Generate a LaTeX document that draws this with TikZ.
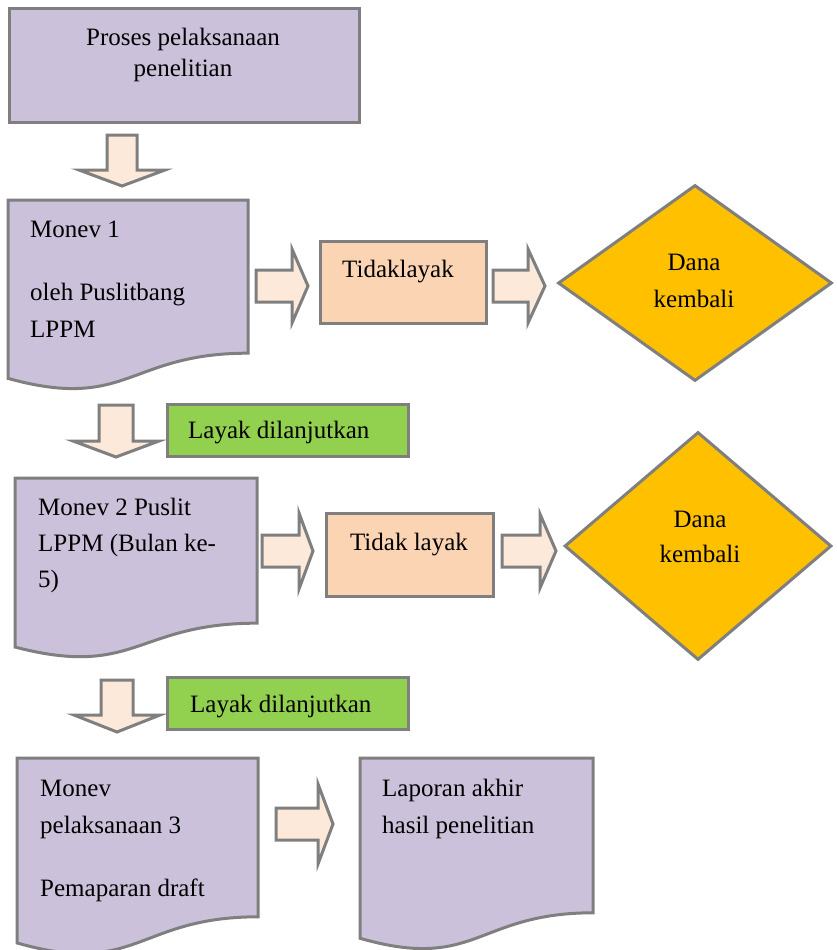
\documentclass[tikz,border=0pt]{standalone}
\usepackage{fontspec}
\setmainfont{Liberation Serif}
\usetikzlibrary{shapes.geometric}
\definecolor{lav}{HTML}{CCC1DA}
\definecolor{bord}{HTML}{7F7F7F}
\definecolor{arrf}{HTML}{FDE9D9}
\definecolor{peach}{HTML}{FBD4B4}
\definecolor{grn}{HTML}{92D050}
\definecolor{gold}{HTML}{FFC000}
\newcommand{\docshape}[5]{%
  \coordinate (#1) at (#2,#3);
  \draw[shapeline,fill=lav] (#1) -- ++(#4,0) -- ({#2+#4},{#3+0.802*#5})
    .. controls ({#2+#4/2},{#3+0.802*#5}) and ({#2+#4/2},{#3+1.1075*#5}) ..
    (#2,{#3+0.934*#5}) -- cycle;}
\newcommand{\rarr}[6]{%
  \draw[arrowshape] (#1,{#2-#5}) -- (#3,{#2-#5}) -- (#3,{#2-#6}) -- (#4,#2)
    -- (#3,{#2+#6}) -- (#3,{#2+#5}) -- (#1,{#2+#5}) -- cycle;}
\newcommand{\darr}[6]{%
  \draw[arrowshape] ({#1-#5},#2) -- ({#1-#5},#3) -- ({#1-#6},#3) -- (#1,#4)
    -- ({#1+#6},#3) -- ({#1+#5},#3) -- ({#1+#5},#2) -- cycle;}
\begin{document}
\begin{tikzpicture}[x=1pt,y=-1pt,
  shapeline/.style={draw=bord,line width=3pt},
  box/.style={shapeline,rectangle,inner sep=0pt,anchor=north west},
  dia/.style={shapeline,diamond,fill=gold,inner sep=0pt},
  arrowshape/.style={shapeline,fill=arrf,line join=miter},
  txt/.style={font=\fontsize{25}{37}\selectfont,inner sep=0pt,anchor=base west,align=left},
  ctxt/.style={font=\fontsize{25}{37}\selectfont,inner sep=0pt,anchor=base,align=center}]
\useasboundingbox (0,0) rectangle (837,950);

% top box
\node[box,fill=lav,minimum width=350pt,minimum height=114pt] (top) at (8,7) {};
\node[ctxt] (toptxt) at (183,76) {Proses pelaksanaan\\[-6pt]penelitian};
\darr{122}{135}{170}{186}{15}{43}

% row 1
\docshape{m1}{8}{200}{240}{191}
\node[txt] (m1txt) at (30,337) {Monev 1\\[26pt]oleh Puslitbang\\LPPM};
\rarr{256}{286}{292}{308}{16}{37}
\node[box,fill=peach,minimum width=166pt,minimum height=82pt] (tl1) at (319,240) {};
\node[ctxt] (tl1txt) at (398,277) {Tidaklayak};
\rarr{493}{286}{528}{545}{16}{37}
\node[dia,minimum width=274pt,minimum height=196pt] (d1) at (695,283) {};
\node[ctxt] (d1txt) at (694,307) {Dana\\kembali};

% row 2
\darr{116}{405}{441}{457}{17}{43}
\node[box,fill=grn,minimum width=241pt,minimum height=52pt] (ld1) at (166,403) {};
\node[txt] (ld1txt) at (188,438) {Layak dilanjutkan};
\docshape{m2}{15}{478}{242}{181}
\node[txt] (m2txt) at (38,587) {Monev 2 Puslit\\[-1pt]LPPM (Bulan ke-\\[-1pt]5)};
\rarr{262}{551}{299}{313}{16}{38}
\node[box,fill=peach,minimum width=167pt,minimum height=83pt] (tl2) at (325,512) {};
\node[ctxt] (tl2txt) at (409,550) {Tidak layak};
\rarr{502}{551}{540}{556}{16}{37}
\node[dia,minimum width=267pt,minimum height=228pt] (d2) at (698,546) {};
\node[ctxt] (d2txt) at (700,562) {Dana\\[-2pt]kembali};

% row 3
\darr{117}{680}{715}{732}{16}{43}
\node[box,fill=grn,minimum width=241pt,minimum height=52pt] (ld2) at (166,676) {};
\node[txt] (ld2txt) at (190,712) {Layak dilanjutkan};
\docshape{m3}{17}{758}{241}{198}
\node[txt] (m3txt) at (40,896) {Monev\\pelaksanaan 3\\[26pt]Pemaparan draft};
\rarr{276}{824}{318}{333}{16}{40}
\docshape{lap}{360}{758}{233}{193}
\node[txt] (laptxt) at (382,833) {Laporan akhir\\hasil penelitian};
\end{tikzpicture}
\end{document}
